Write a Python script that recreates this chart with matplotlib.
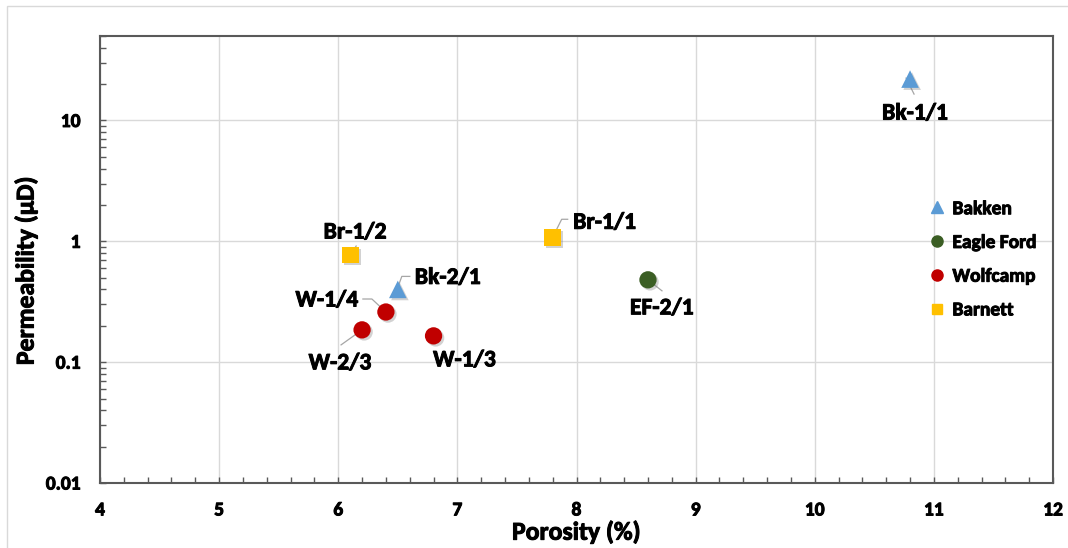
import numpy as np
import matplotlib
matplotlib.use("Agg")
import matplotlib.pyplot as plt
from matplotlib.ticker import FixedLocator, MultipleLocator, LogLocator, NullFormatter
from matplotlib.lines import Line2D
from matplotlib.patches import Rectangle
from matplotlib.transforms import IdentityTransform
import matplotlib.patheffects as pe

# ---- data -------------------------------------------------------------
formations = ["Bakken", "Eagle Ford", "Wolfcamp", "Barnett"]
colors = {"Bakken": "#5B9BD5", "Eagle Ford": "#3B5E24", "Wolfcamp": "#C00000", "Barnett": "#FFC000"}
markers = {"Bakken": "^", "Eagle Ford": "o", "Wolfcamp": "o", "Barnett": "s"}

sample_ids = ["Bk-1/1", "Bk-2/1", "EF-2/1", "W-1/4", "W-2/3", "W-1/3", "Br-1/2", "Br-1/1"]
sample_formation = ["Bakken", "Bakken", "Eagle Ford", "Wolfcamp", "Wolfcamp", "Wolfcamp", "Barnett", "Barnett"]
porosity = [10.8, 6.5, 8.6, 6.4, 6.2, 6.8, 6.1, 7.8]          # %
permeability = [22.0, 0.40, 0.48, 0.26, 0.185, 0.165, 0.77, 1.08]  # microdarcy

x_ticks = [4, 5, 6, 7, 8, 9, 10, 11, 12]
y_ticks = [0.01, 0.1, 1, 10]
y_tick_labels = ["0.01", "0.1", "1", "10"]

# label placement: text offset (px) and leader-line vertices (px) relative to each point
label_offsets = {
    "Bk-1/1": (5, -34), "Bk-2/1": (50, 12), "EF-2/1": (14, -28), "W-1/4": (-59, 12),
    "W-2/3": (-22, -33), "W-1/3": (31, -24), "Br-1/2": (5, 23), "Br-1/1": (52, 15),
}
leaders = {
    "Bk-1/1": [(-4, 1), (4, -15)],
    "Bk-2/1": [(12, 13), (4, 13), (0, 2)],
    "EF-2/1": [(0, 0), (14, -11)],
    "W-1/4": [(-23, 13), (-14, 13), (0, 0)],
    "W-2/3": [(-21, -15), (0, 0)],
    "Br-1/2": [(6, 9), (0, 0)],
    "Br-1/1": [(15, 18), (9, 18), (0, 0)],
}

# ---- figure -----------------------------------------------------------
plt.rcParams["font.family"] = ["Carlito", "DejaVu Sans"]
plt.rcParams["font.weight"] = "bold"

fig = plt.figure(figsize=(10.68, 5.48), dpi=100)
W, H = 1068, 548
ax = fig.add_axes([100 / W, 1 - 483 / H, (1053 - 100) / W, (483 - 36) / H])

# heavier strokes for all text
heavy = [pe.withStroke(linewidth=0.7, foreground="black")]

# chart-area border
fig.add_artist(Rectangle((7 / W, -0.1), 1.2, 1 - 6 / H + 0.1, transform=fig.transFigure,
                         fill=False, edgecolor="#D9D9D9", linewidth=1.0))

ax.set_yscale("log")
ax.set_xlim(4, 12)
ax.set_ylim(0.01, 50)

ax.xaxis.set_major_locator(FixedLocator(x_ticks))
ax.xaxis.set_minor_locator(MultipleLocator(0.2))
ax.yaxis.set_major_locator(FixedLocator(y_ticks))
ax.yaxis.set_minor_locator(LogLocator(base=10, subs=np.arange(2, 10)))
ax.yaxis.set_minor_formatter(NullFormatter())
ax.set_yticklabels(y_tick_labels)
ax.set_xticklabels([str(t) for t in x_ticks])

ax.grid(True, which="major", color="#D9D9D9", linewidth=1.0)
ax.set_axisbelow(True)
for s in ax.spines.values():
    s.set_color("#595959")
    s.set_linewidth(1.5)

ax.tick_params(axis="both", which="both", direction="in", color="#595959", width=1.0,
               labelsize=14)
ax.tick_params(axis="both", which="major", length=4)
ax.tick_params(axis="both", which="minor", length=4)
ax.tick_params(axis="x", which="major", pad=14)
ax.tick_params(axis="y", which="major", pad=14)
for lbl in ax.get_xticklabels() + ax.get_yticklabels():
    lbl.set_fontweight("bold")
    lbl.set_path_effects(heavy)

ax.set_xlabel("Porosity (%)", fontsize=18.5, fontweight="bold", path_effects=heavy)
ax.set_ylabel("Permeability (µD)", fontsize=18.5, fontweight="bold", path_effects=heavy)
ax.xaxis.set_label_coords(0.5, -0.083)
ax.yaxis.set_label_coords(-0.0655, 0.475)

shadow = [pe.SimplePatchShadow(offset=(1.5, -1.5), shadow_rgbFace="#7F7F7F", alpha=0.35), pe.Normal()]
msize = {"^": 160, "o": 155, "s": 145}

fig.canvas.draw()

# leader lines
for sid, x, y in zip(sample_ids, porosity, permeability):
    if sid in leaders:
        bx, by = ax.transData.transform((x, y))
        pts = leaders[sid]
        ax.add_line(Line2D([bx + p[0] for p in pts], [by + p[1] for p in pts],
                           transform=IdentityTransform(), color="#A6A6A6", linewidth=0.9,
                           zorder=2))

# markers
for f in formations:
    xs = [x for x, ff in zip(porosity, sample_formation) if ff == f]
    ys = [y for y, ff in zip(permeability, sample_formation) if ff == f]
    m = markers[f]
    ax.scatter(xs, ys, s=msize[m], marker=m, color=colors[f], edgecolors="none",
               zorder=3, path_effects=shadow)

# data labels
for sid, x, y in zip(sample_ids, porosity, permeability):
    dx, dy = label_offsets[sid]
    ax.annotate(sid, (x, y), xytext=(dx, dy), textcoords="offset pixels",
                ha="center", va="center", fontsize=17, fontweight="bold", color="black",
                zorder=4, path_effects=heavy)

# legend
handles = [Line2D([], [], linestyle="none", marker=markers[f], color=colors[f],
                  markersize=8 if markers[f] != "s" else 7.5) for f in formations]
leg = ax.legend(handles, formations, loc="center left", bbox_to_anchor=(0.868, 0.50),
                frameon=False, fontsize=14, handlelength=1.0, handletextpad=0.3,
                labelspacing=0.88, borderpad=0, borderaxespad=0)
for t in leg.get_texts():
    t.set_fontweight("bold")
    t.set_path_effects(heavy)

fig.savefig("out.png", dpi=100)
